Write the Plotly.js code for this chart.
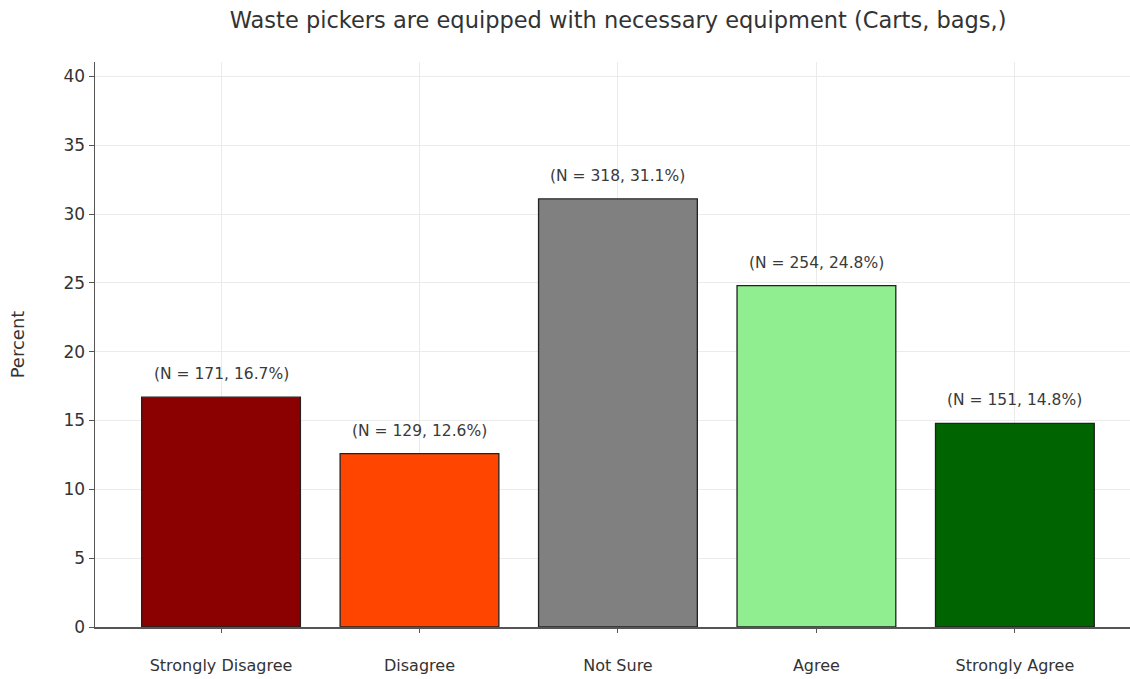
<!DOCTYPE html>
<html>
<head>
<meta charset="utf-8">
<script src="https://cdn.plot.ly/plotly-3.0.1.min.js"></script>
<style>
  html, body { margin: 0; padding: 0; background: #ffffff; }
  #chart { width: 1130px; height: 679px; }
</style>
</head>
<body>
<div id="chart"></div>
<script>
// Survey responses: waste pickers' equipment (carts, bags)
const categories = ["Strongly Disagree", "Disagree", "Not Sure", "Agree", "Strongly Agree"];
const counts = [171, 129, 318, 254, 151];
const percents = [16.7, 12.6, 31.1, 24.8, 14.8];
const barColors = ["#8b0000", "#ff4500", "#808080", "#90ee90", "#006400"];
const yTicks = [0, 5, 10, 15, 20, 25, 30, 35, 40];

const trace = {
  type: "bar",
  x: categories,
  y: percents,
  width: 0.8,
  marker: {
    color: barColors,
    line: { color: "#222222", width: 1.3 }
  },
  hoverinfo: "skip"
};

// "(N = count, pct%)" labels sitting just above each bar
const annotations = categories.map((c, i) => ({
  x: c,
  y: percents[i],
  yref: "y",
  xref: "x",
  text: "(N = " + counts[i] + ", " + percents[i].toFixed(1) + "%)",
  showarrow: false,
  yshift: 23,
  font: { family: "DejaVu Sans", size: 15.5, color: "#3a3a3a" }
}));

const layout = {
  width: 1130,
  height: 679,
  margin: { l: 95, r: 0, t: 62, b: 52 },
  paper_bgcolor: "#ffffff",
  plot_bgcolor: "#ffffff",
  showlegend: false,
  font: { family: "DejaVu Sans", color: "#333333" },
  title: {
    text: "Waste pickers are equipped with necessary equipment (Carts, bags,)",
    font: { family: "DejaVu Sans", size: 22.5, color: "#333333" },
    x: 0.547,
    xanchor: "center",
    y: 0.970,
    yanchor: "middle"
  },
  xaxis: {
    type: "category",
    range: [-0.635, 4.58],
    showgrid: true,
    gridcolor: "#ebebeb",
    gridwidth: 1,
    showline: true,
    linecolor: "#555555",
    linewidth: 1.5,
    ticks: "outside",
    ticklen: 4,
    tickcolor: "#555555",
    tickfont: { family: "DejaVu Sans", size: 16, color: "#333333" },
    ticklabelstandoff: 19,
    layer: "above traces",
    zeroline: false
  },
  yaxis: {
    range: [0, 41.05],
    tickvals: yTicks,
    ticktext: yTicks.map(String),
    showgrid: true,
    gridcolor: "#ebebeb",
    gridwidth: 1,
    showline: true,
    linecolor: "#555555",
    linewidth: 1.5,
    ticks: "outside",
    ticklen: 5,
    tickcolor: "#555555",
    tickfont: { family: "DejaVu Sans", size: 17, color: "#333333" },
    zeroline: false,
    layer: "above traces",
    title: {
      text: "Percent",
      font: { family: "DejaVu Sans", size: 18, color: "#333333" },
      standoff: 34
    }
  },
  annotations: annotations
};

Plotly.newPlot("chart", [trace], layout, { displayModeBar: false, staticPlot: true });
</script>
</body>
</html>
